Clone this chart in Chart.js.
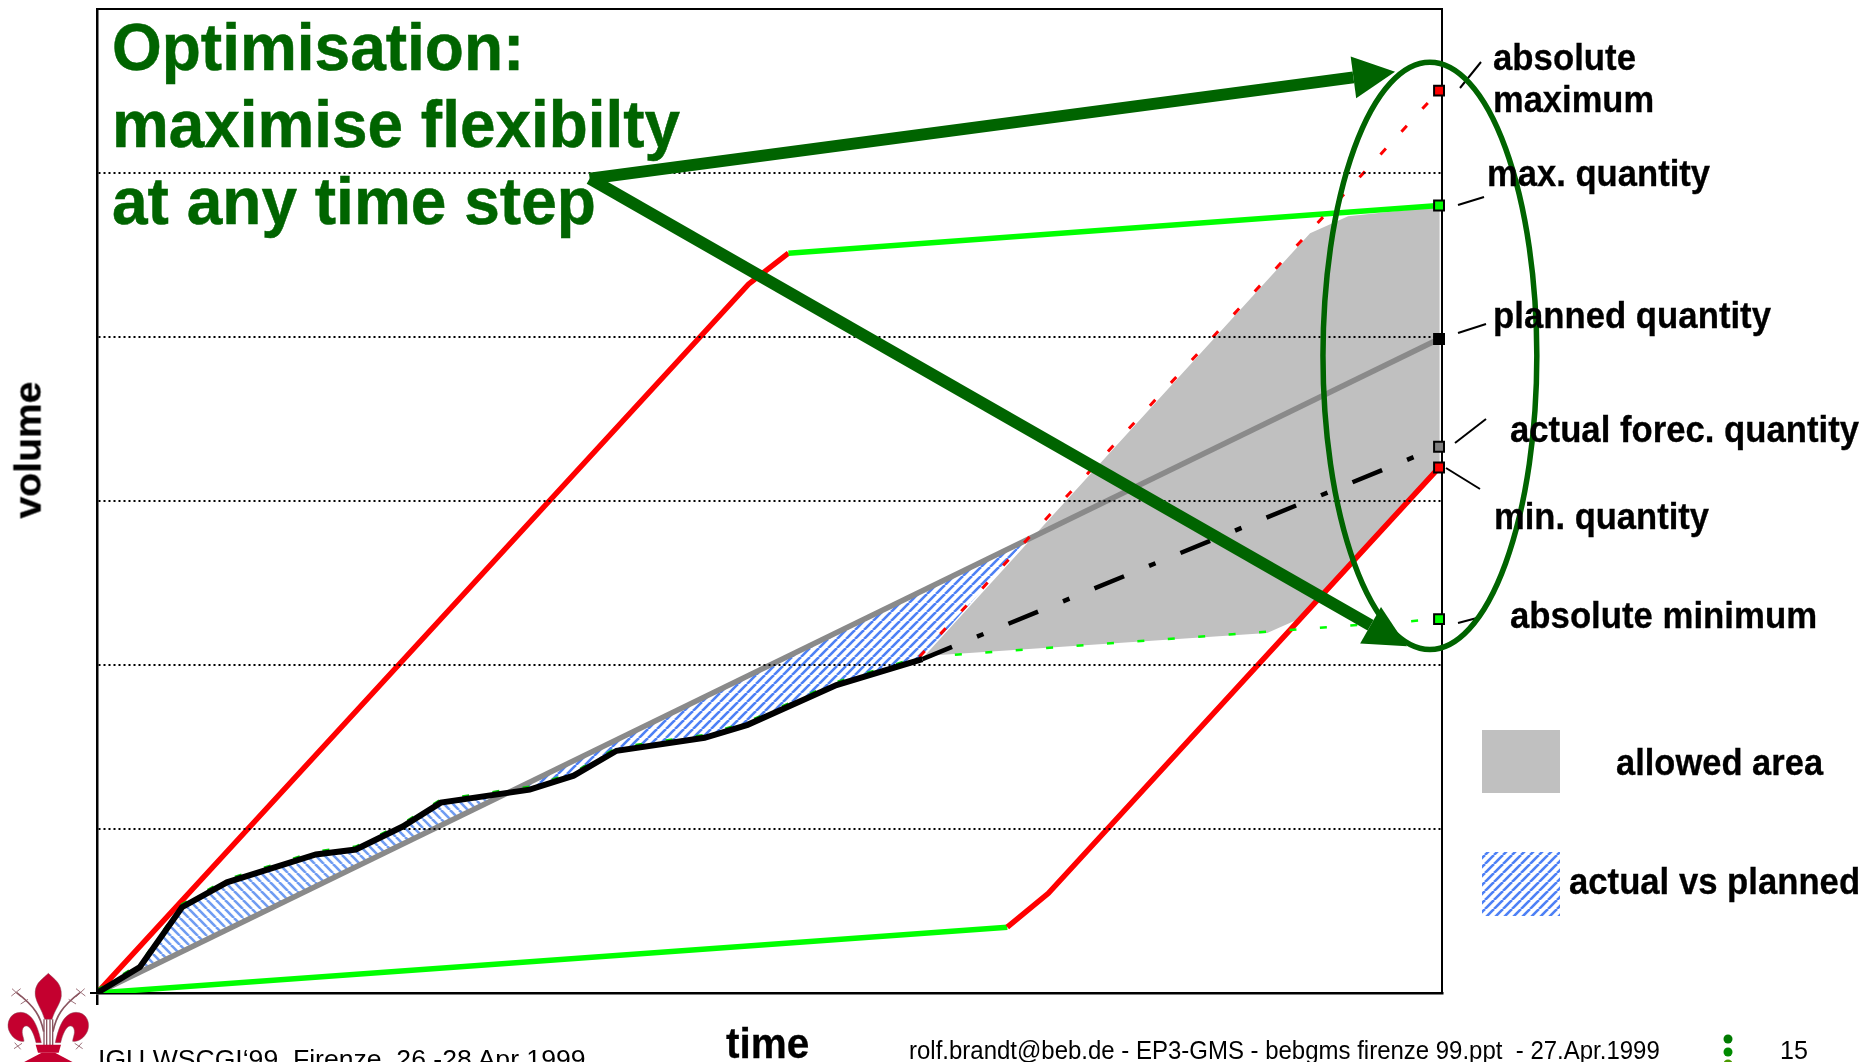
<!DOCTYPE html>
<html lang="en">
<head>
  <meta charset="UTF-8" />
  <title>Optimisation: maximise flexibility at any time step</title>
  <script src="https://cdn.jsdelivr.net/npm/chart.js"></script>
  <style>
    html, body { margin: 0; padding: 0; background: #fff; }
    #slide { position: relative; width: 1870px; height: 1062px; overflow: hidden; }
    canvas { position: absolute; left: 0; top: 0; }
    .t {
      position: absolute;
      font-family: "Liberation Sans", Arial, sans-serif;
      line-height: 1;
      white-space: pre;
      color: #000;
    }
    .b { font-weight: bold; -webkit-text-stroke: 0.3px #000; }
    .head { color: #006400; font-weight: bold; -webkit-text-stroke: 0.5px #006400; }
  </style>
</head>
<body>
  <div id="slide">
    <canvas id="chart" width="1870" height="1062"></canvas>

    <div class="t head" data-x="112" data-b="70" data-w="412" data-s="66">Optimisation:</div>
    <div class="t head" data-x="112" data-b="147" data-w="568" data-s="66">maximise flexibilty</div>
    <div class="t head" data-x="112" data-b="224" data-w="484" data-s="66">at any time step</div>

    <div class="t b" data-x="1493" data-b="70" data-w="143" data-s="36">absolute</div>
    <div class="t b" data-x="1493" data-b="112" data-w="161" data-s="36">maximum</div>
    <div class="t b" data-x="1487" data-b="186" data-w="223" data-s="36">max. quantity</div>
    <div class="t b" data-x="1493" data-b="328" data-w="278" data-s="36">planned quantity</div>
    <div class="t b" data-x="1510" data-b="442" data-w="349" data-s="36">actual forec. quantity</div>
    <div class="t b" data-x="1494" data-b="529" data-w="215" data-s="36">min. quantity</div>
    <div class="t b" data-x="1510" data-b="628" data-w="307" data-s="36">absolute minimum</div>
    <div class="t b" data-x="1616" data-b="775" data-w="207" data-s="36">allowed area</div>
    <div class="t b" data-x="1569" data-b="894" data-w="291" data-s="36">actual vs planned</div>

    <div class="t b" data-x="41" data-b="518" data-w="137" data-s="36" data-r="1">volume</div>
    <div class="t b" data-x="726" data-b="1059" data-w="83" data-s="42">time</div>

    <div class="t" data-x="98" data-b="1068" data-w="488" data-s="25">IGU WSCGI‘99, Firenze, 26.-28 Apr 1999</div>
    <div class="t" data-x="909" data-b="1059" data-w="751" data-s="25">rolf.brandt@beb.de - EP3-GMS - bebgms firenze 99.ppt  - 27.Apr.1999</div>
    <div class="t" data-x="1780" data-b="1059" data-w="28" data-s="26">15</div>
  </div>

  <script>
    // values: time in % of the period, volume in grid steps
    const actualTime = [0, 3.19, 6.32, 9.66, 16.27, 19.24, 22.73, 25.56, 32.17, 35.44, 38.63, 45.17, 48.37, 54.98, 61.37];
    const actualVolume = [0, 0.158, 0.523, 0.675, 0.845, 0.875, 1.015, 1.161, 1.24, 1.325, 1.477, 1.556, 1.635, 1.878, 2.036];

    // green dashes that peek out along the upper side of the actual line
    const actualMinVolume = [0.018, 0.176, 0.541, 0.693, 0.863, 0.893, 1.033, 1.179, 1.258, 1.343, 1.495, 1.574, 1.653, 1.896, 2.054];

    const plannedTime = [0, 99.78];
    const plannedVolume = [0, 3.988];

    const forecastTime = [61.37, 99.78];
    const forecastVolume = [2.036, 3.331];

    const maxRampTime = [0, 48.44, 51.41];
    const maxRampVolume = [0, 4.322, 4.511];
    const maxQuantityTime = [51.41, 99.78];
    const maxQuantityVolume = [4.511, 4.802];

    const minFlatTime = [0, 67.68];
    const minFlatVolume = [0, 0.401];
    const minQuantityTime = [67.68, 70.73, 99.78];
    const minQuantityVolume = [0.401, 0.608, 3.204];

    const absMaxTime = [61.14, 99.78];
    const absMaxVolume = [2.049, 5.502];
    const absMinTime = [61.52, 99.78];
    const absMinVolume = [2.049, 2.28];

    const allowedTime = [61.52, 90.19, 93.02, 99.82, 99.82, 89.52, 87.0];
    const allowedVolume = [2.055, 4.632, 4.736, 4.796, 3.204, 2.286, 2.195];

    // actual above plan until the crossing, below plan after it
    const aboveTime = [0, 3.19, 6.32, 9.66, 16.27, 19.24, 22.73, 25.56, 30.54];
    const aboveVolume = [0, 0.158, 0.523, 0.675, 0.845, 0.875, 1.015, 1.161, 1.222];
    const belowTime = [30.54, 69.09, 61.52, 61.37, 54.98, 48.37, 45.17, 38.63, 35.44, 32.17];
    const belowVolume = [1.222, 2.762, 2.06, 2.036, 1.878, 1.635, 1.556, 1.477, 1.325, 1.24];

    const endTime = [99.78, 99.78, 99.78, 99.78, 99.78, 99.78];
    const endVolume = [5.502, 4.802, 3.988, 3.331, 3.204, 2.28];
    const endColors = ["#ff0000", "#00ff00", "#000000", "#808080", "#ff0000", "#00ff00"];

    // arrows and ring, also in time / volume units
    const arrowTail = [36.63, 4.966];
    const arrowTips = [[96.51, 5.617], [97.4, 2.115]];
    const ringCentre = [99.1, 3.885];
    const ringRadius = [7.95, 1.79];

    const zip = (xs, ys) => xs.map((x, i) => ({ x: x, y: ys[i] }));

    function hatchPattern(rising, color) {
      const n = 9;
      const c = document.createElement("canvas");
      c.width = n;
      c.height = n;
      const g = c.getContext("2d");
      g.fillStyle = "#fff";
      g.fillRect(0, 0, n, n);
      g.strokeStyle = color;
      g.lineWidth = 2.6;
      for (let i = -1; i <= 1; i++) {
        g.beginPath();
        if (rising) {
          g.moveTo(i * n, n);
          g.lineTo(i * n + n, 0);
        } else {
          g.moveTo(i * n, 0);
          g.lineTo(i * n + n, n);
        }
        g.stroke();
      }
      return g.createPattern(c, "repeat");
    }
    const hatchRising = hatchPattern(true, "#4d80f5");
    const hatchFalling = hatchPattern(false, "#6f9cf2");

    function lineSet(label, xs, ys, color, width, dash) {
      return {
        label: label,
        data: zip(xs, ys),
        showLine: true,
        borderColor: color,
        borderWidth: width,
        borderDash: dash || [],
        borderCapStyle: "butt",
        pointRadius: 0,
        fill: false
      };
    }

    function areaSet(label, xs, ys, fillStyle) {
      return {
        label: label,
        data: zip(xs, ys),
        showLine: true,
        borderWidth: 0,
        pointRadius: 0,
        backgroundColor: fillStyle,
        fill: "shape"
      };
    }

    // the lily in the corner, drawn in 3x units from its own corner
    function drawLilySide(ctx) {
      ctx.beginPath();
      ctx.moveTo(124, 248);
      ctx.bezierCurveTo(114, 200, 98, 158, 62, 157);
      ctx.bezierCurveTo(30, 157, 18, 190, 27, 212);
      ctx.bezierCurveTo(35, 232, 54, 246, 72, 244);
      ctx.bezierCurveTo(72, 232, 60, 214, 72, 200);
      ctx.bezierCurveTo(86, 190, 100, 214, 108, 248);
      ctx.closePath();
      ctx.fill();
      ctx.stroke();

      ctx.lineWidth = 5;
      ctx.beginPath();
      ctx.moveTo(131, 215);
      ctx.bezierCurveTo(122, 170, 105, 140, 50, 98);
      ctx.stroke();
      ctx.lineWidth = 2.5;
      ctx.beginPath();
      [[36, 86, 62, 110], [34, 108, 62, 86], [62, 132, 84, 118],
       [44, 248, 62, 268], [42, 266, 66, 250]].forEach(s => {
        ctx.moveTo(s[0], s[1]);
        ctx.lineTo(s[2], s[3]);
      });
      ctx.stroke();
      ctx.lineWidth = 1.5;
    }

    function drawLily(ctx) {
      ctx.save();
      ctx.translate(0, 960);
      ctx.scale(1 / 3, 1 / 3);
      ctx.fillStyle = "#c4002f";
      ctx.strokeStyle = "#8a5560";
      ctx.lineWidth = 1.5;

      // centre petal
      ctx.beginPath();
      ctx.moveTo(145, 40);
      ctx.bezierCurveTo(125, 60, 102, 70, 106, 108);
      ctx.bezierCurveTo(110, 130, 126, 150, 134, 178);
      ctx.lineTo(156, 178);
      ctx.bezierCurveTo(164, 150, 182, 130, 184, 108);
      ctx.bezierCurveTo(186, 70, 165, 60, 145, 40);
      ctx.closePath();
      ctx.fill();
      ctx.stroke();

      ctx.save();
      drawLilySide(ctx);
      ctx.translate(290, 0);
      ctx.scale(-1, 1);
      drawLilySide(ctx);
      ctx.restore();

      // stems through the middle and the foot of the flower
      ctx.lineWidth = 4;
      ctx.beginPath();
      [132, 140, 150, 158].forEach(x => {
        ctx.moveTo(x, 178);
        ctx.lineTo(x, 260);
      });
      ctx.stroke();
      ctx.beginPath();
      ctx.moveTo(107, 254);
      ctx.lineTo(183, 254);
      ctx.lineTo(176, 278);
      ctx.lineTo(114, 278);
      ctx.closePath();
      ctx.fill();
      ctx.beginPath();
      ctx.moveTo(125, 278);
      ctx.lineTo(165, 278);
      ctx.lineTo(225, 310);
      ctx.lineTo(65, 310);
      ctx.closePath();
      ctx.fill();
      ctx.restore();
    }

    // the ring, arrows, leader lines, legend boxes and footer dots
    const slideDecor = {
      id: "slideDecor",
      afterDraw(chart) {
        const ctx = chart.ctx;
        const px = chart.scales.x;
        const py = chart.scales.y;
        const tail = [px.getPixelForValue(arrowTail[0]), py.getPixelForValue(arrowTail[1])];

        ctx.save();

        ctx.strokeStyle = "#000";
        ctx.lineWidth = 2;
        [[1460, 88, 1481, 62], [1458, 205, 1484, 197], [1458, 333, 1486, 324],
         [1455, 443, 1486, 419], [1446, 468, 1480, 489], [1458, 623, 1477, 618]].forEach(l => {
          ctx.beginPath();
          ctx.moveTo(l[0], l[1]);
          ctx.lineTo(l[2], l[3]);
          ctx.stroke();
        });

        ctx.strokeStyle = "#006400";
        ctx.lineWidth = 5.5;
        ctx.beginPath();
        ctx.ellipse(
          px.getPixelForValue(ringCentre[0]),
          py.getPixelForValue(ringCentre[1]),
          Math.abs(px.getPixelForValue(ringRadius[0]) - px.getPixelForValue(0)),
          Math.abs(py.getPixelForValue(ringRadius[1]) - py.getPixelForValue(0)),
          0, 0, Math.PI * 2
        );
        ctx.stroke();

        arrowTips.forEach(tip => {
          const tx = px.getPixelForValue(tip[0]);
          const ty = py.getPixelForValue(tip[1]);
          const a = Math.atan2(ty - tail[1], tx - tail[0]);
          const bx = tx - 42 * Math.cos(a);
          const by = ty - 42 * Math.sin(a);
          ctx.strokeStyle = "#006400";
          ctx.lineWidth = 12;
          ctx.beginPath();
          ctx.moveTo(tail[0], tail[1]);
          ctx.lineTo(bx, by);
          ctx.stroke();
          ctx.fillStyle = "#006400";
          ctx.beginPath();
          ctx.moveTo(tx, ty);
          ctx.lineTo(bx - 21 * Math.sin(a), by + 21 * Math.cos(a));
          ctx.lineTo(bx + 21 * Math.sin(a), by - 21 * Math.cos(a));
          ctx.closePath();
          ctx.fill();
        });

        ctx.fillStyle = "#c0c0c0";
        ctx.fillRect(1482, 730, 78, 63);
        ctx.fillStyle = hatchRising;
        ctx.fillRect(1482, 852, 78, 64);

        [[1039, "#007a00"], [1052, "#008a00"], [1064, "#4b9a00"]].forEach(d => {
          ctx.fillStyle = d[1];
          ctx.beginPath();
          ctx.arc(1728, d[0], 4.5, 0, Math.PI * 2);
          ctx.fill();
        });

        drawLily(ctx);

        ctx.restore();
      }
    };

    new Chart(document.getElementById("chart").getContext("2d"), {
      type: "scatter",
      data: {
        datasets: [
          {
            label: "quantities at the last step",
            data: zip(endTime, endVolume),
            pointStyle: "rect",
            pointRadius: 7,
            pointBackgroundColor: endColors,
            pointBorderColor: "#000",
            pointBorderWidth: 2,
            clip: false
          },
          lineSet("actual", actualTime, actualVolume, "#000000", 6),
          lineSet("actual min", actualTime, actualMinVolume, "#00cc00", 2.5, [7, 23.5]),
          lineSet("actual forecast", forecastTime, forecastVolume, "#000000", 4.5, [32, 27, 7, 27]),
          lineSet("absolute maximum", absMaxTime, absMaxVolume, "#ff0000", 3, [8, 23]),
          lineSet("absolute minimum", absMinTime, absMinVolume, "#00ff00", 2.5, [7, 23.5]),
          lineSet("max. quantity", maxQuantityTime, maxQuantityVolume, "#00ff00", 5.5),
          lineSet("max. ramp", maxRampTime, maxRampVolume, "#ff0000", 5.5),
          lineSet("min. quantity", minQuantityTime, minQuantityVolume, "#ff0000", 5.5),
          lineSet("min. flat", minFlatTime, minFlatVolume, "#00ff00", 5.5),
          lineSet("planned quantity", plannedTime, plannedVolume, "#8a8a8a", 5.5),
          areaSet("actual above planned", aboveTime, aboveVolume, hatchFalling),
          areaSet("actual below planned", belowTime, belowVolume, hatchRising),
          areaSet("allowed area", allowedTime, allowedVolume, "#c0c0c0")
        ]
      },
      options: {
        responsive: false,
        animation: false,
        events: [],
        layout: { padding: { left: 90, right: 428, top: 6, bottom: 57 } },
        plugins: {
          legend: { display: false },
          tooltip: { enabled: false }
        },
        scales: {
          x: {
            type: "linear",
            min: 0,
            max: 100,
            ticks: { display: false, stepSize: 100 },
            grid: {
              drawOnChartArea: false,
              tickLength: 12,
              lineWidth: 2.5,
              tickColor: c => (c.tick && c.tick.value === 0 ? "#000" : "rgba(0,0,0,0)")
            },
            border: { color: "#000", width: 2.5 }
          },
          y: {
            type: "linear",
            min: 0,
            max: 6,
            ticks: { display: false, stepSize: 1 },
            grid: {
              z: 1,
              lineWidth: 2,
              tickLength: 7,
              color: c => (c.tick && c.tick.value > 0 && c.tick.value < 6 ? "#000" : "rgba(0,0,0,0)"),
              tickColor: c => (c.tick && c.tick.value === 0 ? "#000" : "rgba(0,0,0,0)")
            },
            border: { color: "#000", width: 2.5, dash: [2, 3], z: 2 }
          },
          xTop: {
            type: "linear",
            position: "top",
            min: 0,
            max: 100,
            ticks: { display: false },
            grid: { display: false, drawTicks: false },
            border: { color: "#000", width: 2 }
          },
          yRight: {
            type: "linear",
            position: "right",
            min: 0,
            max: 6,
            ticks: { display: false },
            grid: { display: false, drawTicks: false },
            border: { color: "#000", width: 2 }
          }
        }
      },
      plugins: [slideDecor]
    });

    // texts are placed by baseline and stretched to the measured width
    document.querySelectorAll(".t").forEach(el => {
      const size = Number(el.dataset.s);
      el.style.fontSize = size + "px";
      el.style.left = el.dataset.x + "px";
      const drop = size * 0.8465;
      el.style.top = (Number(el.dataset.b) - drop) + "px";
      const k = Number(el.dataset.w) / el.offsetWidth;
      el.style.transformOrigin = "0 " + drop + "px";
      el.style.transform = (el.dataset.r ? "rotate(-90deg) " : "") + "scaleX(" + k + ")";
    });
  </script>
</body>
</html>
